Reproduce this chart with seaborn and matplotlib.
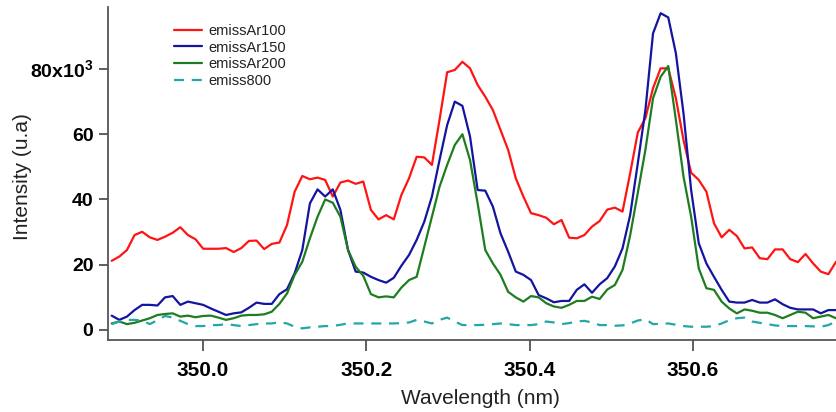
import numpy as np
import pandas as pd
import matplotlib
matplotlib.use("Agg")
import matplotlib.pyplot as plt
import seaborn as sns

# ---------------- data (intensity in units of 10^3) ----------------
wavelength_nm = np.linspace(349.8882, 350.775, 96)  # spectrometer sampling grid

emissAr100 = [21.2, 22.5, 24.5, 29.1, 30.1, 28.4, 27.6, 28.6, 29.8, 31.5,
              29.1, 27.8, 24.9, 24.9, 24.9, 25.1, 23.9, 25.1, 27.3, 27.4,
              24.8, 26.4, 26.8, 32.2, 42.4, 47.2, 46.2, 46.7, 46.0, 40.9,
              45.2, 45.8, 44.8, 45.5, 36.8, 33.9, 35.2, 33.9, 41.4, 46.5,
              53.1, 52.9, 50.6, 64.4, 79.0, 79.7, 82.2, 80.2, 75.1, 71.5,
              67.4, 61.3, 55.2, 46.5, 40.9, 35.8, 35.2, 34.4, 32.4, 33.7,
              28.3, 28.1, 29.1, 31.7, 33.4, 36.9, 37.5, 36.3, 48.0, 60.5,
              64.9, 74.1, 80.2, 80.2, 71.0, 58.2, 48.2, 46.0, 42.4, 32.7,
              28.4, 30.7, 28.8, 25.0, 25.3, 22.0, 21.7, 24.7, 24.7, 21.7,
              20.8, 23.3, 20.4, 17.9, 17.1, 20.9]

emissAr150 = [4.4, 3.1, 4.1, 6.1, 7.7, 7.7, 7.5, 10.0, 10.4, 7.7,
              8.7, 8.2, 7.7, 6.6, 5.6, 4.6, 5.1, 5.4, 6.8, 8.4,
              8.0, 8.0, 11.0, 12.5, 17.4, 24.5, 38.8, 43.1, 40.9, 43.1,
              36.8, 24.5, 17.9, 17.6, 16.3, 15.3, 14.5, 16.0, 19.7, 23.0,
              27.6, 33.2, 40.9, 52.1, 62.8, 70.0, 68.7, 59.3, 42.9, 42.7,
              37.8, 29.6, 24.0, 17.9, 16.9, 15.3, 10.7, 9.7, 8.5, 8.9,
              8.9, 12.3, 14.0, 11.4, 14.0, 15.9, 19.5, 25.0, 35.2, 51.0,
              67.4, 90.9, 97.1, 95.8, 84.8, 66.4, 42.9, 26.6, 20.4, 16.3,
              12.3, 8.7, 8.4, 8.4, 9.2, 8.4, 8.4, 9.4, 7.9, 6.8,
              6.3, 6.3, 6.3, 5.1, 6.1, 6.1]

emissAr200 = [2.0, 2.6, 1.8, 2.2, 2.9, 3.6, 4.6, 4.9, 5.1, 4.1,
              4.4, 3.9, 4.3, 4.4, 3.8, 3.1, 3.6, 4.4, 4.6, 4.6,
              4.8, 5.6, 8.0, 11.2, 16.9, 20.9, 28.1, 34.7, 40.0, 39.0,
              34.7, 24.5, 19.4, 16.6, 11.0, 10.0, 10.3, 10.0, 13.0, 15.3,
              16.3, 25.5, 34.7, 43.9, 50.6, 56.7, 60.0, 52.1, 38.8, 24.5,
              20.4, 16.9, 11.7, 10.0, 8.7, 10.4, 10.0, 8.2, 7.2, 6.8,
              7.7, 8.9, 8.9, 10.2, 9.5, 12.4, 13.8, 18.4, 29.0, 42.0,
              55.2, 71.0, 77.6, 80.9, 64.4, 47.0, 34.7, 18.9, 12.8, 12.3,
              8.7, 6.6, 5.1, 6.3, 5.9, 5.3, 5.3, 4.6, 3.6, 4.6,
              5.6, 5.3, 3.6, 4.1, 4.6, 3.6]

emiss800 = [1.8, 2.6, 3.1, 3.1, 2.9, 1.8, 3.0, 4.3, 3.8, 2.8,
            1.8, 1.2, 1.2, 1.5, 1.5, 1.8, 1.5, 1.2, 1.5, 1.8,
            2.0, 2.0, 2.4, 2.0, 1.0, 0.5, 0.8, 1.0, 1.2, 1.2,
            1.6, 2.0, 2.0, 2.0, 2.0, 2.0, 2.0, 2.0, 2.1, 2.3,
            3.1, 2.6, 2.0, 3.1, 3.8, 2.6, 1.5, 1.5, 1.5, 1.6,
            1.8, 2.0, 1.8, 1.5, 1.5, 1.5, 1.8, 2.6, 2.3, 1.8,
            2.1, 2.6, 2.8, 2.3, 1.5, 1.5, 1.3, 1.4, 2.0, 2.9,
            3.3, 1.8, 1.9, 2.0, 1.6, 1.2, 1.0, 1.0, 1.0, 1.2,
            2.0, 3.0, 3.6, 3.8, 2.6, 2.2, 1.8, 1.4, 1.2, 1.2,
            1.2, 1.2, 1.1, 1.0, 1.5, 2.6]

series_names = ["emissAr100", "emissAr150", "emissAr200", "emiss800"]
series_values = [emissAr100, emissAr150, emissAr200, emiss800]

x_ticks = [350.0, 350.2, 350.4, 350.6]
x_tick_labels = ["350.0", "350.2", "350.4", "350.6"]
y_ticks = [0, 20, 40, 60, 80]
y_tick_labels = ["0", "20", "40", "60", r"80x10$^{\mathbf{3}}$"]

# ---------------- styling ----------------
colors = {"emissAr100": "#ff1414", "emissAr150": "#1414a0",
          "emissAr200": "#1e7d1e", "emiss800": "#22a6a6"}
dash_styles = {"emissAr100": "", "emissAr150": "", "emissAr200": "",
               "emiss800": (4.5, 3.5)}

sns.set_theme(style="ticks")
plt.rcParams["font.family"] = ["Liberation Sans", "DejaVu Sans"]
plt.rcParams["mathtext.fontset"] = "custom"
plt.rcParams["mathtext.rm"] = "Liberation Sans"
plt.rcParams["mathtext.bf"] = "Liberation Sans:bold"

df = pd.concat(
    [pd.DataFrame({"wavelength": wavelength_nm, "intensity": vals, "series": name})
     for name, vals in zip(series_names, series_values)],
    ignore_index=True,
)

fig = plt.figure(figsize=(8.36, 4.12), dpi=100)
ax = fig.add_axes([108 / 836, 72 / 412, 728 / 836, 333 / 412])

sns.lineplot(data=df, x="wavelength", y="intensity", hue="series", style="series",
             hue_order=series_names, style_order=series_names,
             palette=colors, dashes=dash_styles, linewidth=1.6, ax=ax,
             estimator=None, sort=False)

ax.set_xlim(349.8837, 350.775)
ax.set_ylim(-3.07, 99.0)

ax.set_xticks(x_ticks)
ax.set_xticklabels(x_tick_labels, fontsize=15, fontweight="bold", color="black")
ax.set_yticks(y_ticks)
ax.set_yticklabels(y_tick_labels, fontsize=14, fontweight="bold", color="black")

ax.tick_params(axis="x", direction="out", length=8, width=1.2, pad=7, color="#444444")
ax.tick_params(axis="y", direction="out", length=6.5, width=1.2, pad=4, color="#444444")

for side in ["top", "right"]:
    ax.spines[side].set_visible(False)
for side in ["left", "bottom"]:
    ax.spines[side].set_color("#555555")
    ax.spines[side].set_linewidth(1.3)

ax.set_xlabel("Wavelength (nm)", fontsize=15, color="#222222")
ax.set_ylabel("Intensity (u.a)", fontsize=15, color="#222222")
ax.xaxis.set_label_coords(0.512, -0.177)
ax.yaxis.set_label_coords(-0.118, 0.49)
ax.xaxis.label.set_va("center")
ax.yaxis.label.set_va("center")

leg = ax.legend(loc="upper left", bbox_to_anchor=(0.0907, 0.95), frameon=False,
                fontsize=10.5, handlelength=1.9, handletextpad=0.45,
                labelspacing=0.2, borderpad=0, borderaxespad=0)
for t in leg.get_texts():
    t.set_color("#222222")

fig.savefig("out.png", dpi=100)
